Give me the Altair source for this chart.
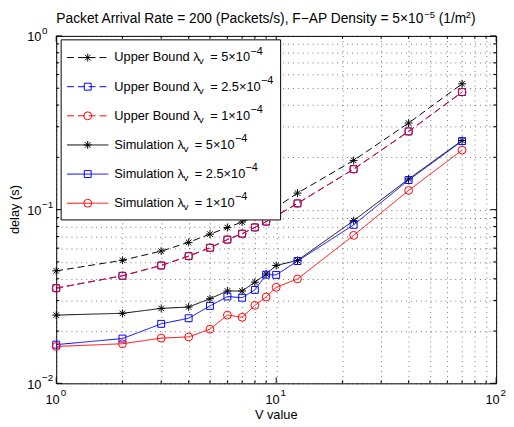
import altair as alt
import pandas as pd

# ---- data ----
v_values = [1, 2, 3, 4, 5, 6, 7, 8, 9, 10, 12.5, 22.5, 40, 70]

ub_5e4 = [0.0444, 0.0511, 0.0577, 0.0648, 0.0723, 0.0788, 0.0849, 0.091, 0.097, 0.103, 0.1245, 0.192, 0.315, 0.530]
ub_25e4 = [0.0353, 0.0416, 0.0477, 0.0540, 0.0603, 0.0672, 0.0727, 0.0790, 0.0853, 0.092, 0.1086, 0.171, 0.282, 0.475]
ub_1e4 = [0.0353, 0.0416, 0.0477, 0.0540, 0.0603, 0.0672, 0.0727, 0.0790, 0.0853, 0.092, 0.1086, 0.171, 0.282, 0.475]
sim_5e4 = [0.0247, 0.0253, 0.0270, 0.0275, 0.0307, 0.0340, 0.0340, 0.0382, 0.0426, 0.0477, 0.0510, 0.0864, 0.150, 0.250]
sim_25e4 = [0.0167, 0.0181, 0.0220, 0.0237, 0.0279, 0.0316, 0.0311, 0.0345, 0.0422, 0.0421, 0.0506, 0.0817, 0.148, 0.248]
sim_1e4 = [0.0163, 0.0169, 0.0182, 0.0185, 0.0205, 0.0247, 0.0240, 0.0281, 0.0314, 0.0357, 0.0399, 0.0711, 0.129, 0.220]

series_values = [ub_5e4, ub_25e4, ub_1e4, sim_5e4, sim_25e4, sim_1e4]
series_kind = ["Upper Bound", "Upper Bound", "Upper Bound", "Simulation", "Simulation", "Simulation"]
series_lambda = ["5", "2.5", "1", "5", "2.5", "1"]

x_grid = [1, 2, 3, 4, 5, 6, 7, 8, 9, 10, 20, 30, 40, 50, 60, 70, 80, 90, 100]
y_grid = [0.01, 0.02, 0.03, 0.04, 0.05, 0.06, 0.07, 0.08, 0.09,
          0.1, 0.2, 0.3, 0.4, 0.5, 0.6, 0.7, 0.8, 0.9, 1]
x_major = [1, 10, 100]
x_exponents = ["0", "1", "2"]
y_major = [0.01, 0.1, 1]
y_exponents = ["−2", "−1", "0"]

title_main = "Packet Arrival Rate = 200 (Packets/s), F−AP Density  = 5×10"
title_exp1 = "−5"
title_mid = "(1/m"
title_exp2 = "2"
title_end = ")"
x_title = "V value"
y_title = "delay (s)"

# ---- styles / layout ----
colors = ["#000000", "#0000ff", "#ff0000", "#000000", "#0000ff", "#ff0000"]
dashes = [[7, 4], [7, 4], [7, 4], [1, 0], [1, 0], [1, 0]]
STAR = "M-1,0L1,0M0,-1L0,1M-0.7,-0.7L0.7,0.7M-0.7,0.7L0.7,-0.7"
shapes = [STAR, "square", "circle", STAR, "square", "circle"]
sizes = [64, 49, 64, 64, 49, 64]

W, H = 447, 353
FONT = "Liberation Sans"

# Arial / Liberation Sans advance widths (per 1000 em) for text layout
AW = {' ': 278, '(': 333, ')': 333, ',': 278, '-': 333, '.': 278, '/': 278, '=': 584,
      'A': 667, 'B': 667, 'D': 722, 'F': 611, 'P': 667, 'R': 722, 'S': 667, 'U': 722, 'V': 667,
      'a': 556, 'c': 500, 'd': 556, 'e': 556, 'i': 222, 'k': 500, 'l': 222, 'm': 833, 'n': 556,
      'o': 556, 'p': 556, 'r': 333, 's': 500, 't': 278, 'u': 556, 'v': 500, 'y': 500,
      '×': 584, '−': 584, 'λ': 500}


def tw(s, size):
    return sum(AW.get(c, 556) for c in s) * size / 1000.0 * 0.985


def sp(size):
    return 278 * size / 1000.0


xscale = alt.Scale(type="log", domain=[1, 100], nice=False)
yscale = alt.Scale(type="log", domain=[0.01, 1], nice=False)

xaxis = alt.Axis(values=x_grid, labels=False, grid=True, gridDash=[1, 4],
                 gridColor="#000000", gridOpacity=0.55, ticks=False, domain=False, title=None)
yaxis = alt.Axis(values=y_grid, labels=False, grid=True, gridDash=[1, 4],
                 gridColor="#000000", gridOpacity=0.55, ticks=False, domain=False, title=None)

layers = []
one = pd.DataFrame({"a": [0]})


def txt(text, x, y, size, align="left", angle=0):
    kw = dict(text=text, align=align, baseline="middle", font=FONT, fontSize=size, color="#000")
    if angle:
        kw["angle"] = angle
    return alt.Chart(one).mark_text(**kw).encode(x=alt.value(x), y=alt.value(y))


def rich(parts, x0, y, first_right=False):
    """parts: list of (text, size, dy, gap_before); the first part is left- or right-aligned at x0."""
    out = []
    x = x0
    for k, (text, size, dy, gap) in enumerate(parts):
        if k == 0 and first_right:
            out.append(txt(text, x, y + dy, size, align="right"))
            continue
        x += gap
        out.append(txt(text, x, y + dy, size))
        x += tw(text, size)
    return out


# axis / grid carrier
grid_df = pd.DataFrame({"x": [1, 100], "y": [0.01, 1]})
layers.append(
    alt.Chart(grid_df).mark_point(opacity=0).encode(
        x=alt.X("x:Q", scale=xscale, axis=xaxis),
        y=alt.Y("y:Q", scale=yscale, axis=yaxis),
    )
)

# inward ticks on all four sides
xt = pd.DataFrame({"x": x_grid, "major": [v in x_major for v in x_grid]})
yt = pd.DataFrame({"y": y_grid, "major": [v in y_major for v in y_grid]})
for major, ln in [(True, 6), (False, 3)]:
    dx = xt[xt["major"] == major]
    dy = yt[yt["major"] == major]
    layers.append(alt.Chart(dx).mark_rule(color="#000", strokeWidth=1).encode(
        x=alt.X("x:Q", scale=xscale), y=alt.value(H), y2=alt.value(H - ln)))
    layers.append(alt.Chart(dx).mark_rule(color="#000", strokeWidth=1).encode(
        x=alt.X("x:Q", scale=xscale), y=alt.value(0), y2=alt.value(ln)))
    layers.append(alt.Chart(dy).mark_rule(color="#000", strokeWidth=1).encode(
        y=alt.Y("y:Q", scale=yscale), x=alt.value(0), x2=alt.value(ln)))
    layers.append(alt.Chart(dy).mark_rule(color="#000", strokeWidth=1).encode(
        y=alt.Y("y:Q", scale=yscale), x=alt.value(W), x2=alt.value(W - ln)))

# tick labels: "10" with raised exponent
xl = pd.DataFrame({"x": x_major, "e": x_exponents})
layers.append(alt.Chart(xl).mark_text(text="10", align="right", baseline="middle", font=FONT,
                                      fontSize=13, color="#000", dx=3.5).encode(
    x=alt.X("x:Q", scale=xscale), y=alt.value(H + 16.5)))
layers.append(alt.Chart(xl).mark_text(align="left", baseline="middle", font=FONT,
                                      fontSize=10, color="#000", dx=4.5).encode(
    x=alt.X("x:Q", scale=xscale), y=alt.value(H + 9.5), text="e:N"))
yl = pd.DataFrame({"y": y_major, "e": y_exponents})
layers.append(alt.Chart(yl).mark_text(text="10", align="right", baseline="middle", font=FONT,
                                      fontSize=13, color="#000", dy=1.5).encode(
    y=alt.Y("y:Q", scale=yscale), x=alt.value(-15)))
layers.append(alt.Chart(yl).mark_text(align="left", baseline="middle", font=FONT,
                                      fontSize=10, color="#000", dy=-5, dx=0.5).encode(
    y=alt.Y("y:Q", scale=yscale), x=alt.value(-15), text="e:N"))

# axis titles
layers.append(txt(x_title, W / 2, H + 32, 13, align="center"))
layers.append(txt(y_title, -42, H / 2, 13, align="center", angle=270))

# chart title (main part right-aligned where the exponent starts)
tparts = [(title_main, 14, 0, 0), (title_exp1, 9.5, -3.5, 1), (title_mid, 14, 0, sp(14)),
          (title_exp2, 9.5, -3.5, 0), (title_end, 14, 0, 0)]
layers += rich(tparts, 373, -17.5, first_right=True)

# data series
for i, vals in enumerate(series_values):
    df = pd.DataFrame({"V": v_values, "delay": vals})
    base = alt.Chart(df).encode(
        x=alt.X("V:Q", scale=xscale),
        y=alt.Y("delay:Q", scale=yscale),
    )
    layers.append(base.mark_line(color=colors[i], strokeWidth=1, strokeDash=dashes[i], clip=True))
    layers.append(base.mark_point(shape=shapes[i], size=sizes[i], color=colors[i],
                                  filled=False, strokeWidth=1, opacity=1))

# legend box
LX0, LX1, LY0, LY1 = 5, 228, 4, 187
layers.append(alt.Chart(one).mark_rect(fill="#fff", stroke="#000", strokeWidth=1).encode(
    x=alt.value(LX0), x2=alt.value(LX1), y=alt.value(LY0), y2=alt.value(LY1)))
ROW0, ROWH = 22, 29.6
for i in range(6):
    yy = ROW0 + i * ROWH
    layers.append(alt.Chart(one).mark_rule(color=colors[i], strokeWidth=1, strokeDash=dashes[i]).encode(
        x=alt.value(11), x2=alt.value(53), y=alt.value(yy)))
    layers.append(alt.Chart(one).mark_point(shape=shapes[i], size=sizes[i], color=colors[i],
                                            filled=False, strokeWidth=1, opacity=1).encode(
        x=alt.value(32), y=alt.value(yy)))
    parts = [(series_kind[i] + " λ", 13, 0, 0), ("v", 10, 4, 0.5),
             ("= " + series_lambda[i] + "×10", 13, 0, 3 + sp(13)), ("−4", 11, -6, 1)]
    layers += rich(parts, 59, yy)

chart = alt.layer(*layers).properties(
    width=W, height=H,
    padding={"left": 49, "top": 25, "right": 10, "bottom": 40},
    autosize="none",
).configure_view(stroke="#000", strokeWidth=1)

chart.save("out.html", embed_options={"renderer": "svg", "actions": False})
